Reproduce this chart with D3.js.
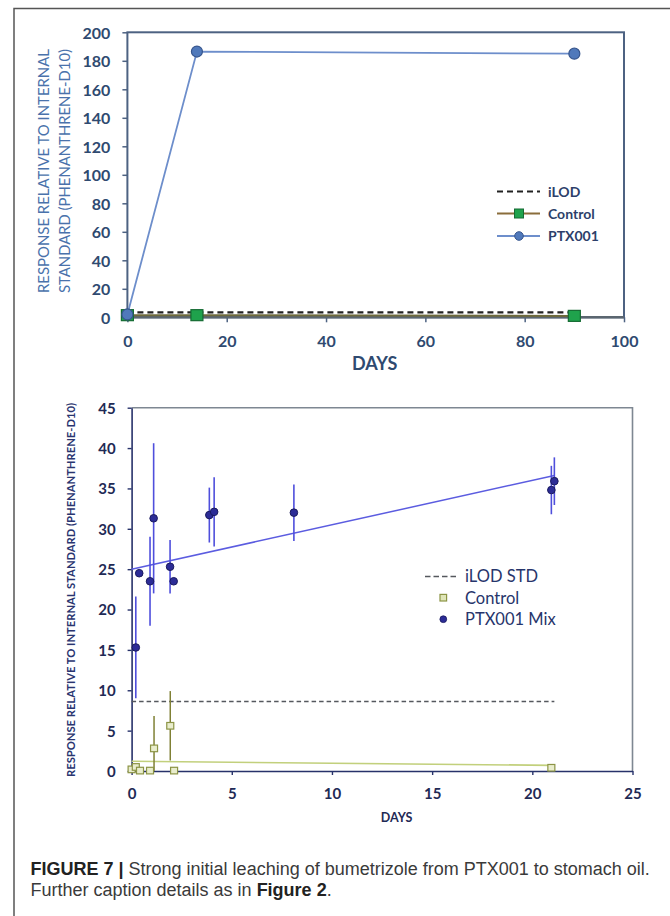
<!DOCTYPE html>
<html>
<head>
<meta charset="utf-8">
<script src="https://cdn.jsdelivr.net/npm/d3@7"></script>
<style>
  html, body { margin: 0; padding: 0; background: #fff; }
  svg { display: block; }
</style>
</head>
<body>
<svg id="fig" width="670" height="916"></svg>
<script>
// ---- Panel A: long-term leaching (0–90 days) ----
const topDays = [0, 14, 90];
const topPTX = [2, 186.5, 185];
const topControl = [1.5, 1.5, 1.0];
const topILOD = 3.5;
const topILODDays = [0, 90];
const topXTicks = [0, 20, 40, 60, 80, 100];
const topYTicks = [0, 20, 40, 60, 80, 100, 120, 140, 160, 180, 200];
const topLegend = ["iLOD", "Control", "PTX001"];

// ---- Panel B: early leaching (0–21 days) ----
const mixDays = [0.21, 0.38, 0.92, 1.1, 1.92, 2.1, 3.88, 4.12, 8.1, 20.95, 21.1];
const mixValues = [15.3, 24.5, 23.5, 31.3, 25.3, 23.5, 31.7, 32.1, 32.0, 34.8, 35.9];
const mixErrors = [6.3, 0, 5.5, 9.3, 3.3, 0, 3.4, 4.3, 3.5, 3.0, 2.95];
const ctrlDays = [0, 0.21, 0.42, 0.92, 1.12, 1.93, 2.12, 20.95];
const ctrlValues = [0.2, 0.5, 0.05, 0.05, 2.8, 5.6, 0.05, 0.4];
const ctrlErrors = [0, 0, 0, 0, 4.0, 4.3, 0, 0];
const mixTrendDays = [0, 21.1];
const mixTrendValues = [25.0, 36.6];
const ctrlTrendDays = [0, 21.0];
const ctrlTrendValues = [1.2, 0.7];
const bottomILOD = 8.6;
const bottomILODDays = [0, 21.1];
const bottomXTicks = [0, 5, 10, 15, 20, 25];
const bottomYTicks = [0, 5, 10, 15, 20, 25, 30, 35, 40, 45];
const bottomLegend = ["iLOD STD", "Control", "PTX001 Mix"];

const yTitleLines = ["RESPONSE RELATIVE TO INTERNAL", "STANDARD (PHENANTHRENE-D10)"];
const yTitleFull = "RESPONSE RELATIVE TO INTERNAL STANDARD (PHENANTHRENE-D10)";
const xTitle = "DAYS";

const svg = d3.select("#fig");
const FONT = "Lato, 'Open Sans', sans-serif";

// page frame
svg.append("path")
  .attr("d", "M14,916 L14,8.5 L670,8.5")
  .attr("fill", "none").attr("stroke", "#555").attr("stroke-width", 1.5);

// ================= Panel A =================
{
  const x = d3.scaleLinear().domain([0, 100]).range([127.4, 624]);
  const y = d3.scaleLinear().domain([0, 200]).range([317.3, 32.3]);
  const g = svg.append("g");
  const frame = "#4d6282";
  const tickCol = "#2f4a70";

  const xAxis = g.append("g").attr("transform", `translate(0,${y(0)})`)
    .call(d3.axisBottom(x).tickValues(topXTicks).tickSize(5).tickSizeOuter(0));
  const yAxis = g.append("g").attr("transform", `translate(${x(0)},0)`)
    .call(d3.axisLeft(y).tickValues(topYTicks).tickSize(5).tickPadding(12).tickSizeOuter(0));
  [xAxis, yAxis].forEach(a => {
    a.select(".domain").remove();
    a.selectAll("line").attr("stroke", frame).attr("stroke-width", 1.5);
    a.selectAll("text").attr("fill", tickCol).attr("font-family", FONT)
      .attr("font-weight", 700).attr("font-size", 16);
  });
  xAxis.selectAll("text").attr("dy", 0).attr("y", 30);
  yAxis.selectAll("text").attr("dy", "0.36em");

  // plot frame
  g.append("rect")
    .attr("x", x(0)).attr("y", y(200))
    .attr("width", x(100) - x(0)).attr("height", y(0) - y(200))
    .attr("fill", "none").attr("stroke", frame).attr("stroke-width", 2);
  g.append("line")
    .attr("x1", x(0)).attr("x2", x(100)).attr("y1", y(0)).attr("y2", y(0))
    .attr("stroke", "#5b6670").attr("stroke-width", 2.5);

  // iLOD
  g.append("line")
    .attr("x1", x(topILODDays[0])).attr("x2", x(topILODDays[1]))
    .attr("y1", y(topILOD)).attr("y2", y(topILOD))
    .attr("stroke", "#222").attr("stroke-width", 2.2).attr("stroke-dasharray", "6,4");

  // Control
  const line = d3.line().x(d => x(d[0])).y(d => y(d[1]));
  const ctrl = topDays.map((d, i) => [d, topControl[i]]);
  g.append("path").attr("d", line(ctrl))
    .attr("fill", "none").attr("stroke", "#6e6a3c").attr("stroke-width", 2);

  // PTX001
  const ptx = topDays.map((d, i) => [d, topPTX[i]]);
  g.append("path").attr("d", line(ptx))
    .attr("fill", "none").attr("stroke", "#6d8ecb").attr("stroke-width", 1.8);

  g.selectAll(".csq").data(ctrl).enter().append("rect")
    .attr("x", d => x(d[0]) - 6).attr("y", d => y(d[1]) - 5.5)
    .attr("width", 12).attr("height", 11)
    .attr("fill", "#1fa24c").attr("stroke", "#156b33").attr("stroke-width", 1.2);
  g.selectAll(".pc").data(ptx).enter().append("circle")
    .attr("cx", d => x(d[0])).attr("cy", d => y(d[1])).attr("r", 5.5)
    .attr("fill", "#5079bb").attr("stroke", "#37568e").attr("stroke-width", 1.2);

  // legend
  const lg = g.append("g");
  const lx0 = 497, lx1 = 540, tx = 548;
  const ly = [191.5, 213.5, 236];
  lg.append("line").attr("x1", lx0).attr("x2", lx1).attr("y1", ly[0]).attr("y2", ly[0])
    .attr("stroke", "#222").attr("stroke-width", 2.2).attr("stroke-dasharray", "6,4");
  lg.append("line").attr("x1", lx0).attr("x2", lx1).attr("y1", ly[1]).attr("y2", ly[1])
    .attr("stroke", "#8a6d3b").attr("stroke-width", 1.8);
  lg.append("rect").attr("x", 519 - 4.5).attr("y", ly[1] - 4.5).attr("width", 9).attr("height", 9)
    .attr("fill", "#1fa24c").attr("stroke", "#156b33").attr("stroke-width", 1);
  lg.append("line").attr("x1", lx0).attr("x2", lx1).attr("y1", ly[2]).attr("y2", ly[2])
    .attr("stroke", "#6d8ecb").attr("stroke-width", 1.8);
  lg.append("circle").attr("cx", 519).attr("cy", ly[2]).attr("r", 4.3)
    .attr("fill", "#5079bb").attr("stroke", "#37568e").attr("stroke-width", 1);
  lg.selectAll("text").data(topLegend).enter().append("text")
    .attr("x", tx).attr("y", (d, i) => ly[i]).attr("dy", "0.36em")
    .attr("font-family", FONT).attr("font-weight", 700).attr("font-size", 14)
    .attr("fill", "#2d3f6a").text(d => d);

  // axis titles
  g.append("text").attr("x", x(50) - 1).attr("y", 370)
    .attr("text-anchor", "middle").attr("font-family", FONT).attr("font-weight", 700)
    .attr("font-size", 18).attr("fill", tickCol).text(xTitle);
  const yt = g.append("g").attr("transform", "translate(0,171) rotate(-90)");
  yt.selectAll("text").data(yTitleLines).enter().append("text")
    .attr("x", 0).attr("y", (d, i) => i === 0 ? 49 : 70)
    .attr("text-anchor", "middle").attr("font-family", FONT).attr("font-size", 16)
    .attr("textLength", 244).attr("lengthAdjust", "spacingAndGlyphs")
    .attr("fill", "#4a72ab").text(d => d);
}

// ================= Panel B =================
{
  const x = d3.scaleLinear().domain([0, 25]).range([131.6, 632.5]);
  const y = d3.scaleLinear().domain([0, 45]).range([771, 407.7]);
  const g = svg.append("g");
  const navy = "#27326a";
  const tickCol = "#1f2a55";

  // top & right border
  g.append("path")
    .attr("d", `M${x(0)},${y(45)} L${x(25)},${y(45)} L${x(25)},${y(0)}`)
    .attr("fill", "none").attr("stroke", "#7e8792").attr("stroke-width", 1.6);

  const xAxis = g.append("g").attr("transform", `translate(0,${y(0)})`)
    .call(d3.axisBottom(x).tickValues(bottomXTicks).tickSize(4).tickSizeOuter(0));
  const yAxis = g.append("g").attr("transform", `translate(${x(0)},0)`)
    .call(d3.axisLeft(y).tickValues(bottomYTicks).tickSize(4).tickPadding(12).tickSizeOuter(0));
  [xAxis, yAxis].forEach(a => {
    a.select(".domain").attr("stroke", navy).attr("stroke-width", 1.6);
    a.selectAll("line").attr("stroke", navy).attr("stroke-width", 1.4);
    a.selectAll("text").attr("fill", tickCol).attr("font-family", FONT)
      .attr("font-weight", 700).attr("font-size", 15);
  });
  xAxis.selectAll("text").attr("dy", 0).attr("y", 28);
  yAxis.selectAll("text").attr("dy", "0.36em");

  const line = d3.line().x(d => x(d[0])).y(d => y(d[1]));

  // iLOD STD
  g.append("path").attr("d", line(bottomILODDays.map(d => [d, bottomILOD])))
    .attr("fill", "none").attr("stroke", "#55585e").attr("stroke-width", 1.6)
    .attr("stroke-dasharray", "4.5,3");

  // Control trend + error bars + points
  g.append("path").attr("d", line(ctrlTrendDays.map((d, i) => [d, ctrlTrendValues[i]])))
    .attr("fill", "none").attr("stroke", "#c2d07c").attr("stroke-width", 1.6);
  const ctrl = ctrlDays.map((d, i) => ({ x: d, v: ctrlValues[i], e: ctrlErrors[i] }));
  g.selectAll(".ce").data(ctrl.filter(d => d.e > 0)).enter().append("line")
    .attr("x1", d => x(d.x)).attr("x2", d => x(d.x))
    .attr("y1", d => y(Math.max(0, d.v - d.e))).attr("y2", d => y(d.v + d.e))
    .attr("stroke", "#7f8035").attr("stroke-width", 1.5);

  // PTX001 Mix trend + error bars
  g.append("path").attr("d", line(mixTrendDays.map((d, i) => [d, mixTrendValues[i]])))
    .attr("fill", "none").attr("stroke", "#5b5ce0").attr("stroke-width", 1.5);
  const mix = mixDays.map((d, i) => ({ x: d, v: mixValues[i], e: mixErrors[i] }));
  g.selectAll(".me").data(mix.filter(d => d.e > 0)).enter().append("line")
    .attr("x1", d => x(d.x)).attr("x2", d => x(d.x))
    .attr("y1", d => y(d.v - d.e)).attr("y2", d => y(d.v + d.e))
    .attr("stroke", "#4f4fdc").attr("stroke-width", 1.6);

  g.selectAll(".cp").data(ctrl).enter().append("rect")
    .attr("x", d => x(d.x) - 3.5).attr("y", d => y(d.v) - 3.3)
    .attr("width", 7).attr("height", 6.6)
    .attr("fill", "#e9edcd").attr("stroke", "#8c9445").attr("stroke-width", 1.2);
  g.selectAll(".mp").data(mix).enter().append("circle")
    .attr("cx", d => x(d.x)).attr("cy", d => y(d.v)).attr("r", 3.8)
    .attr("fill", "#2c2c96").attr("stroke", "#1a1a5e").attr("stroke-width", 1);

  // legend
  const lg = g.append("g");
  const ly = [576.5, 597.7, 619.2];
  lg.append("line").attr("x1", 425).attr("x2", 459).attr("y1", ly[0]).attr("y2", ly[0])
    .attr("stroke", "#55585e").attr("stroke-width", 1.6).attr("stroke-dasharray", "5.5,3");
  lg.append("rect").attr("x", 443.3 - 3.3).attr("y", ly[1] - 3.3).attr("width", 6.6).attr("height", 6.6)
    .attr("fill", "#dfe5b8").attr("stroke", "#8c9445").attr("stroke-width", 1.2);
  lg.append("circle").attr("cx", 443.3).attr("cy", ly[2]).attr("r", 3.4)
    .attr("fill", "#2c2c96").attr("stroke", "#1a1a5e").attr("stroke-width", 0.8);
  lg.selectAll("text").data(bottomLegend).enter().append("text")
    .attr("x", 465).attr("y", (d, i) => ly[i]).attr("dy", "0.36em")
    .attr("font-family", FONT).attr("font-size", 16.5)
    .attr("fill", "#27356b").text(d => d);

  // axis titles
  g.append("text").attr("x", 396.6).attr("y", 822)
    .attr("text-anchor", "middle").attr("font-family", FONT).attr("font-weight", 700)
    .attr("font-size", 12.5).attr("fill", tickCol).text(xTitle);
  g.append("text").attr("transform", "translate(75,590) rotate(-90)")
    .attr("text-anchor", "middle").attr("font-family", FONT).attr("font-weight", 700)
    .attr("font-size", 11).attr("textLength", 374).attr("lengthAdjust", "spacingAndGlyphs")
    .attr("fill", "#2a3570").text(yTitleFull);
}

// ================= Caption =================
{
  const cap = svg.append("g").attr("font-family", "'Liberation Sans', Arial, sans-serif")
    .attr("fill", "#3a3a3a");
  const l1 = cap.append("text").attr("x", 30.5).attr("y", 875).attr("font-size", 15);
  l1.append("tspan").attr("font-weight", 700).attr("fill", "#222").text("FIGURE 7 | ");
  l1.append("tspan").text("Strong initial leaching of bumetrizole from PTX001 to stomach oil.");
  // size the caption so its first line spans the figure width
  const w = l1.node().getComputedTextLength();
  const size = 15 * 620 / w;
  l1.attr("font-size", size);
  const l2 = cap.append("text").attr("x", 30.5).attr("y", 896).attr("font-size", size);
  l2.append("tspan").text("Further caption details as in ");
  l2.append("tspan").attr("font-weight", 700).attr("fill", "#222").text("Figure 2");
  l2.append("tspan").text(".");
}
</script>
</body>
</html>
